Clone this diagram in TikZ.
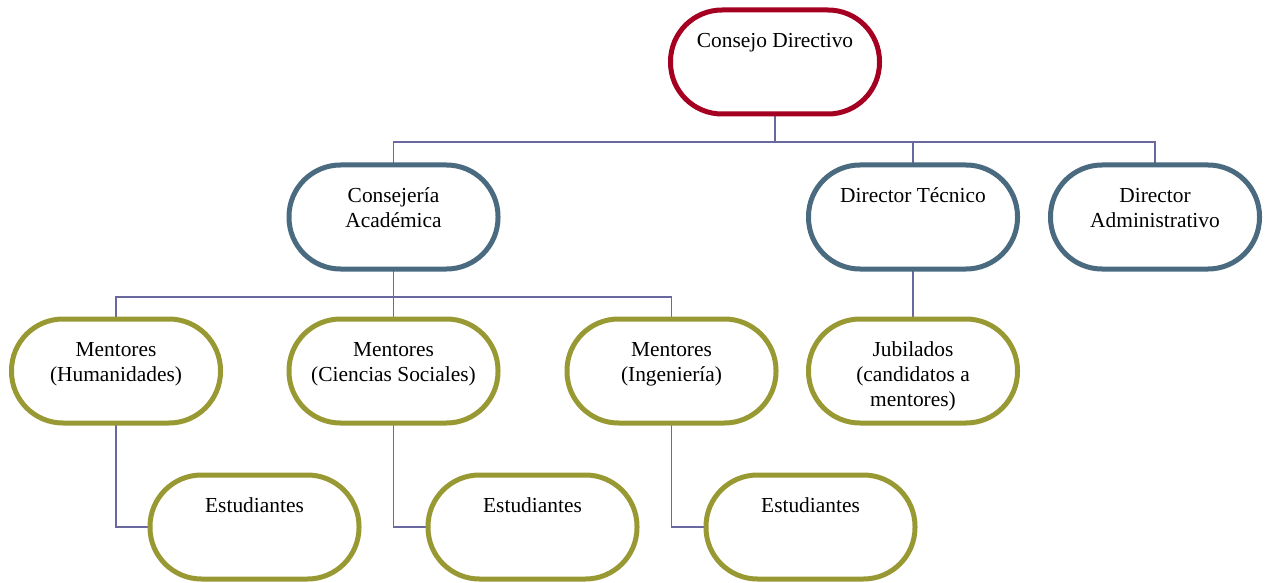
\documentclass[tikz,border=0pt]{standalone}
\usepackage{fontspec}
\setmainfont{Liberation Serif}
\usetikzlibrary{backgrounds}
\definecolor{cred}{RGB}{165,0,33}
\definecolor{cblue}{RGB}{74,106,128}
\definecolor{colive}{RGB}{152,153,51}
\definecolor{cconn}{RGB}{105,105,160}
\begin{document}
\begin{tikzpicture}[x=1pt,y=-1pt,
  box/.style={draw, line width=5pt, fill=white, rectangle, rounded corners=51.5pt,
    minimum width=209pt, minimum height=104pt, inner sep=0pt, outer sep=0pt},
  redbox/.style={box, draw=cred},
  bluebox/.style={box, draw=cblue},
  olivebox/.style={box, draw=colive},
  lbl/.style={anchor=north, align=center, inner sep=0pt, font=\fontsize{21.4}{25}\selectfont},
  conn/.style={draw=cconn, line width=1.6pt}]
\useasboundingbox (0,0) rectangle (1267,583);
% boxes
\node[redbox] (cd) at (775,62) {};
\node[bluebox] (ca) at (393.5,217) {};
\node[bluebox] (dt) at (913,217) {};
\node[bluebox] (da) at (1155,217) {};
\node[olivebox] (mh) at (116,371) {};
\node[olivebox] (mc) at (393.5,371) {};
\node[olivebox] (mi) at (671.5,371) {};
\node[olivebox] (ju) at (913,371) {};
\node[olivebox] (e1) at (254.5,527) {};
\node[olivebox] (e2) at (532.5,527) {};
\node[olivebox] (e3) at (810.5,527) {};
% labels
\node[lbl] (tcd) at ([yshift=-20pt]cd.north) {\strut Consejo Directivo};
\node[lbl] (tca) at ([yshift=-20pt]ca.north) {\strut Consejería\\Académica};
\node[lbl] (tdt) at ([yshift=-20pt]dt.north) {\strut Director Técnico};
\node[lbl] (tda) at ([yshift=-20pt]da.north) {\strut Director\\Administrativo};
\node[lbl] (tmh) at ([yshift=-20pt]mh.north) {\strut Mentores\\(Humanidades)};
\node[lbl] (tmc) at ([yshift=-20pt]mc.north) {\strut Mentores\\(Ciencias Sociales)};
\node[lbl] (tmi) at ([yshift=-20pt]mi.north) {\strut Mentores\\(Ingeniería)};
\node[lbl] (tju) at ([yshift=-20pt]ju.north) {\strut Jubilados\\(candidatos a\\mentores)};
\node[lbl] (te1) at ([yshift=-20pt]e1.north) {\strut Estudiantes};
\node[lbl] (te2) at ([yshift=-20pt]e2.north) {\strut Estudiantes};
\node[lbl] (te3) at ([yshift=-20pt]e3.north) {\strut Estudiantes};
% connectors
\coordinate (b1) at (775,142);
\coordinate (b2) at (393.5,297);
\begin{scope}[on background layer]
\draw[conn] (cd.south) -- (b1);
\draw[conn] (ca.north) |- (b1) -| (da.north);
\draw[conn] (dt.north) -- (dt.north |- b1);
\draw[conn] (ca.south) -- (b2);
\draw[conn] (mh.north) |- (b2) -| (mi.north);
\draw[conn] (mc.north) -- (b2);
\draw[conn] (dt.south) -- (ju.north);
\draw[conn] (mh.south) |- (e1.west);
\draw[conn] (mc.south) |- (e2.west);
\draw[conn] (mi.south) |- (e3.west);
\end{scope}
\end{tikzpicture}
\end{document}
